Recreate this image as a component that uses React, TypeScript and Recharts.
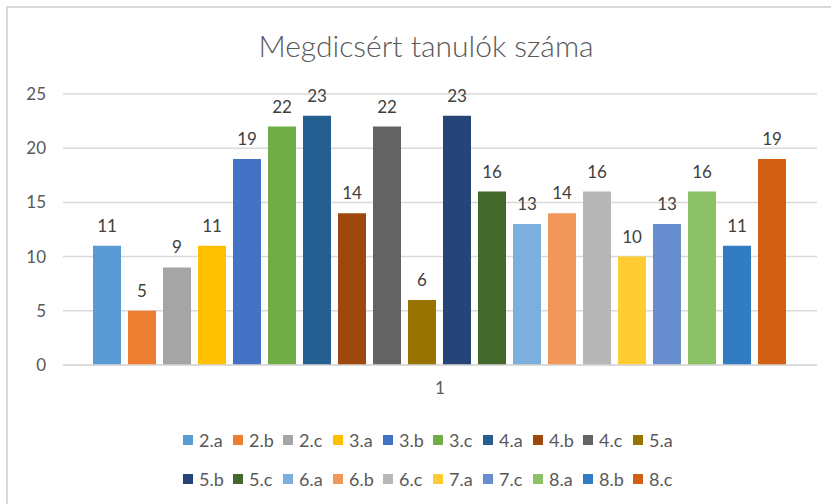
import React from 'react';
import { BarChart, Bar, XAxis, YAxis, CartesianGrid, Legend, LabelList } from 'recharts';

const categories = ['1'];
const seriesNames = ['2.a', '2.b', '2.c', '3.a', '3.b', '3.c', '4.a', '4.b', '4.c', '5.a', '5.b', '5.c', '6.a', '6.b', '6.c', '7.a', '7.c', '8.a', '8.b', '8.c'];
const seriesValues = [11, 5, 9, 11, 19, 22, 23, 14, 22, 6, 23, 16, 13, 14, 16, 10, 13, 16, 11, 19];
const seriesColors = [
  '#5B9BD5', '#ED7D31', '#A5A5A5', '#FFC000', '#4472C4', '#70AD47', '#255E91', '#9E480E', '#636363', '#997300',
  '#264478', '#43682B', '#7CAFDD', '#F1975A', '#B7B7B7', '#FFCD33', '#698ED0', '#8CC168', '#327DC2', '#D26012',
];
const yTicks = [0, 5, 10, 15, 20, 25];

const FONT = 'Lato, "Noto Sans", sans-serif';
const TEXT = '#595959';

const data = categories.map((c) => {
  const row: Record<string, string | number> = { name: c };
  seriesValues.forEach((v, i) => {
    row['s' + i] = v;
  });
  return row;
});

function LegendRows({ payload }: any) {
  const items = payload || [];
  const rows = [items.slice(0, 10), items.slice(10)];
  return (
    <div style={{ height: 70, fontFamily: FONT, fontSize: 18, color: TEXT }}>
      {rows.map((row: any[], r: number) => (
        <div key={r} style={{ display: 'flex', height: 39, alignItems: 'center' }}>
          {row.map((it: any) => (
            <div key={it.value} style={{ width: 50, display: 'flex', alignItems: 'center' }}>
              <span style={{ width: 10, height: 10, background: it.color, marginRight: 6, display: 'inline-block', flexShrink: 0 }} />
              <span>{it.value}</span>
            </div>
          ))}
        </div>
      ))}
    </div>
  );
}

export default function App() {
  return (
    <div style={{ position: 'absolute', left: 0, top: 0, width: 831, height: 504, background: '#fff' }}>
      <div
        style={{
          position: 'absolute',
          left: 6,
          top: 6,
          right: 0,
          bottom: 0,
          borderLeft: '2px solid #d9d9d9',
          borderTop: '2px solid #d9d9d9',
        }}
      />
      <div
        style={{
          position: 'absolute',
          left: 0,
          width: 852,
          top: 27,
          textAlign: 'center',
          fontFamily: FONT,
          fontSize: 30,
          fontWeight: 300,
          color: TEXT,
        }}
      >
        Megdicsért tanulók száma
      </div>
      <div style={{ position: 'absolute', left: 0, top: 0 }}>
        <BarChart
          width={831}
          height={504}
          data={data}
          margin={{ top: 94, right: 14, bottom: 39, left: 0 }}
          barCategoryGap={30}
          barGap={7}
        >
          <CartesianGrid vertical={false} stroke="#d9d9d9" strokeWidth={1.5} />
          <XAxis
            dataKey="name"
            height={30}
            axisLine={{ stroke: '#d9d9d9', strokeWidth: 1.5 }}
            tickLine={false}
            tickSize={0}
            tickMargin={17}
            tick={{ fill: TEXT, fontSize: 17, fontFamily: FONT }}
          />
          <YAxis
            width={63}
            domain={[0, 25]}
            ticks={yTicks}
            axisLine={false}
            tickLine={false}
            tickSize={0}
            tickMargin={17}
            tick={{ fill: TEXT, fontSize: 17, fontFamily: FONT }}
          />
          <Legend
            verticalAlign="bottom"
            content={<LegendRows />}
            wrapperStyle={{ position: 'absolute', left: 183, top: 420, width: 520 }}
          />
          {seriesNames.map((s, i) => (
            <Bar key={s} dataKey={'s' + i} name={s} fill={seriesColors[i]} isAnimationActive={false}>
              <LabelList
                dataKey={'s' + i}
                position="top"
                offset={14}
                fill="#404040"
                fontSize={17}
                fontFamily={FONT}
              />
            </Bar>
          ))}
        </BarChart>
      </div>
    </div>
  );
}
